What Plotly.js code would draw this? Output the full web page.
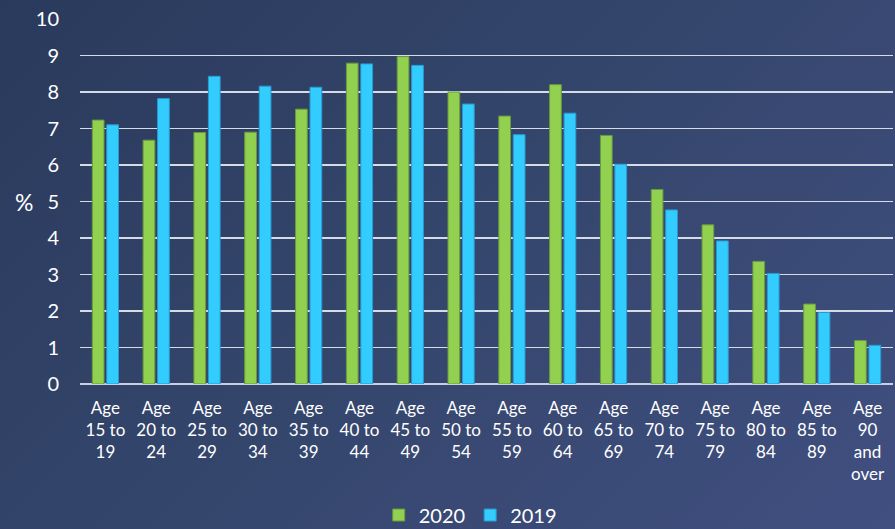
<!DOCTYPE html>
<html>
<head>
<meta charset="utf-8">
<script src="https://cdn.plot.ly/plotly-3.0.1.min.js"></script>
<style>
html,body{margin:0;padding:0;}
body{width:895px;height:529px;background:linear-gradient(135deg,#2a3a5c 0%,#35466d 50%,#404f80 100%);overflow:hidden;}
#chart{width:895px;height:529px;}
</style>
</head>
<body>
<div id="chart"></div>
<script>
const categories = ["Age<br>15 to<br>19","Age<br>20 to<br>24","Age<br>25 to<br>29","Age<br>30 to<br>34","Age<br>35 to<br>39","Age<br>40 to<br>44","Age<br>45 to<br>49","Age<br>50 to<br>54","Age<br>55 to<br>59","Age<br>60 to<br>64","Age<br>65 to<br>69","Age<br>70 to<br>74","Age<br>75 to<br>79","Age<br>80 to<br>84","Age<br>85 to<br>89","Age<br>90<br>and<br>over"];
const values2020 = [7.23, 6.68, 6.89, 6.90, 7.53, 8.79, 8.97, 8.00, 7.34, 8.20, 6.81, 5.33, 4.36, 3.36, 2.19, 1.19];
const values2019 = [7.10, 7.82, 8.43, 8.16, 8.13, 8.77, 8.73, 7.67, 6.83, 7.42, 6.02, 4.77, 3.92, 3.03, 1.96, 1.06];
const yTicks = [0,1,2,3,4,5,6,7,8,9,10];

const font = "Lato, 'Open Sans', sans-serif";
const traces = [
  {type:'bar', name:'2020', x:categories, y:values2020,
   marker:{color:'#92d050', line:{color:'#6a9a3c', width:1}}},
  {type:'bar', name:'2019', x:categories, y:values2019,
   marker:{color:'#33ccff', line:{color:'#2a9ad0', width:1}}}
];
const layout = {
  width:895, height:529,
  paper_bgcolor:'rgba(0,0,0,0)', plot_bgcolor:'rgba(0,0,0,0)',
  margin:{l:80, r:2, t:19, b:145, autoexpand:false},
  barmode:'group', bargap:0.43, bargroupgap:0.19,
  font:{family:font, color:'#ffffff'},
  xaxis:{type:'category', showgrid:false, showline:false, zeroline:false, automargin:false,
         tickangle:0, tickfont:{size:17, color:'#ffffff', family:font}, ticks:'', ticklabelstandoff:12},
  yaxis:{range:[0,10], tickvals:yTicks, ticktext:yTicks.map(String), automargin:false,
         showgrid:true, gridcolor:'#d6dbe8', gridwidth:1.5,
         zeroline:true, zerolinecolor:'#c8cfe0', zerolinewidth:2.5,
         showline:false, ticks:'', ticklabelstandoff:20,
         tickfont:{size:20, color:'#ffffff', family:font}},
  showlegend:true,
  legend:{orientation:'h', x:0.48, xanchor:'center', y:-0.359, yanchor:'middle',
          font:{size:20, color:'#ffffff', family:font}, bgcolor:'rgba(0,0,0,0)',
          itemwidth:30, tracegroupgap:0, traceorder:'normal'},
  annotations:[{text:'%', xref:'paper', yref:'paper', x:-0.069, y:0.5, xanchor:'center', yanchor:'middle',
                showarrow:false, font:{size:23, color:'#ffffff', family:font}}]
};
Plotly.newPlot('chart', traces, layout, {displayModeBar:false, staticPlot:true});
</script>
</body>
</html>
